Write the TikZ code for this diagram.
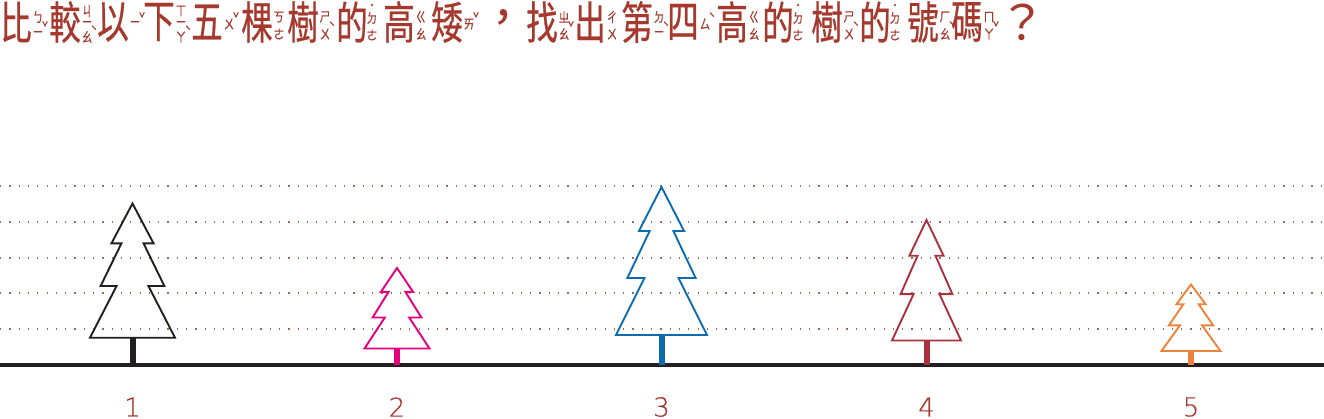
\documentclass[tikz,border=0pt]{standalone}
\usepackage{fontspec}
\setmainfont{Noto Sans CJK TC}
\newfontfamily\hanzifont[FakeStretch=0.7,FakeBold=0.5]{Noto Sans CJK TC}
\newfontfamily\puncfont[FakeBold=0.5]{Noto Sans CJK TC}
\newfontfamily\zhuyinfont[FakeStretch=0.8,FakeBold=0.3]{Noto Sans CJK TC}
\newfontfamily\digitfont[FakeBold=0.3]{DejaVu Sans ExtraLight}
\definecolor{titlered}{HTML}{A5392D}
\definecolor{inkblack}{HTML}{231F20}
\definecolor{treepink}{HTML}{E6007E}
\definecolor{treeblue}{HTML}{0B6CB0}
\definecolor{treemaroon}{HTML}{A8323E}
\definecolor{treeorange}{HTML}{EE8238}
\definecolor{dotbrown}{HTML}{9A6A58}
\tikzset{
  hanzi/.style={text=titlered,inner sep=0pt,font=\hanzifont\fontsize{45}{45}\selectfont},
  punc/.style={text=titlered,inner sep=0pt,font=\puncfont\fontsize{45}{45}\selectfont},
  query/.style={text=titlered,inner sep=0pt,font=\fontsize{48}{48}\selectfont},
  zhuyin/.style={text=titlered,inner sep=0pt,font=\zhuyinfont\fontsize{13.5}{14}\selectfont},
  treenum/.style={text=titlered,inner sep=0pt,font=\digitfont\fontsize{26}{26}\selectfont},
  guide/.style={dotbrown,line width=1.2pt,dash pattern=on 1.2pt off 8.1pt},
  ground/.style={inkblack,line width=4pt},
  crown/.style={line width=1.9pt,line join=miter,miter limit=6},
  trunk/.style={line width=6pt}
}
\newcommand{\sylA}[4]{%
  \node[hanzi] at (#1,22) {#2};
  \node[zhuyin] at ({#1+22},24) {#3};
  \node[zhuyin] at ({#1+29},18) {#4};}
\newcommand{\sylB}[5]{%
  \node[hanzi] at (#1,22) {#2};
  \node[zhuyin] at ({#1+22},17) {#3};
  \node[zhuyin] at ({#1+22},34) {#4};
  \node[zhuyin] at ({#1+29},27) {#5};}
\newcommand{\sylC}[6]{%
  \node[hanzi] at (#1,22) {#2};
  \node[zhuyin] at ({#1+22},11) {#3};
  \node[zhuyin] at ({#1+22},24) {#4};
  \node[zhuyin] at ({#1+22},37) {#5};
  \node[zhuyin] at ({#1+29},31) {#6};}
\newcommand{\sylD}[2]{%
  \node[hanzi] at (#1,22) {#2};
  \node[zhuyin] at ({#1+20},7) {˙};
  \node[zhuyin] at ({#1+20},18) {ㄉ};
  \node[zhuyin] at ({#1+20},35) {ㄜ};}
\newcommand{\firtree}[6]{%
  \pgfmathsetmacro{\ya}{#2+0.297*(#3-#2)}
  \pgfmathsetmacro{\yb}{#2+0.615*(#3-#2)}
  \draw[trunk,#5] (#1,#3) -- (#1,365);
  \draw[crown,#5] (#1,#2)
    -- ({#1+0.495*#4},\ya) -- ({#1+0.26*#4},\ya)
    -- ({#1+0.75*#4},\yb) -- ({#1+0.375*#4},\yb)
    -- ({#1+#4},#3) -- ({#1-#4},#3)
    -- ({#1-0.375*#4},\yb) -- ({#1-0.75*#4},\yb)
    -- ({#1-0.26*#4},\ya) -- ({#1-0.495*#4},\ya) -- cycle;
  \node[treenum] (num#6) at (#1,407) {#6};}
\begin{document}
\begin{tikzpicture}[x=1pt,y=-1pt]
\useasboundingbox (0,0) rectangle (1324,419);
\foreach \yy in {186,222,258,293,329}
  \draw[guide] (0,\yy) -- (1324,\yy);
\draw[ground] (0,365) -- (1324,365);
\firtree{132.5}{203.5}{337.7}{42.5}{inkblack}{1}
\firtree{397}{268}{348.5}{32.5}{treepink}{2}
\firtree{661.5}{187}{335}{45.5}{treeblue}{3}
\firtree{926.5}{220}{340.5}{34.5}{treemaroon}{4}
\firtree{1191}{284.5}{351}{29.5}{treeorange}{5}
\sylB{16}{比}{ㄅ}{ㄧ}{ˇ}
\sylC{65}{較}{ㄐ}{ㄧ}{ㄠ}{ˋ}
\sylA{113}{以}{ㄧ}{ˇ}
\sylC{159}{下}{ㄒ}{ㄧ}{ㄚ}{ˋ}
\sylA{207}{五}{ㄨ}{ˇ}
\sylB{257}{棵}{ㄎ}{ㄜ}{}
\sylB{303}{樹}{ㄕ}{ㄨ}{ˋ}
\sylD{352}{的}
\sylB{399}{高}{ㄍ}{ㄠ}{}
\sylA{447}{矮}{ㄞ}{ˇ}
\node[punc] at (503,21) {，};
\sylB{542}{找}{ㄓ}{ㄠ}{ˇ}
\sylB{590}{出}{ㄔ}{ㄨ}{}
\sylB{637}{第}{ㄉ}{ㄧ}{ˋ}
\sylA{683}{四}{ㄙ}{ˋ}
\sylB{732}{高}{ㄍ}{ㄠ}{}
\sylD{778}{的}
\sylB{827}{樹}{ㄕ}{ㄨ}{ˋ}
\sylD{875}{的}
\sylB{923}{號}{ㄏ}{ㄠ}{ˋ}
\sylB{967}{碼}{ㄇ}{ㄚ}{ˇ}
\node[query] at (1022,22) {？};
\end{tikzpicture}
\end{document}
